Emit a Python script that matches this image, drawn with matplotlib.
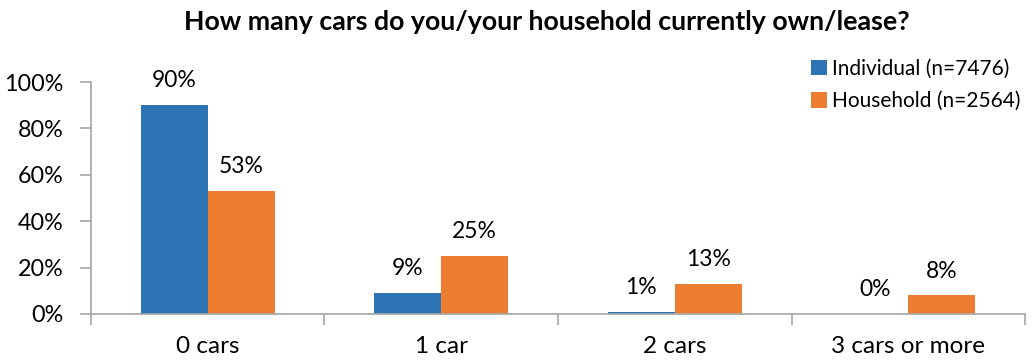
import matplotlib.pyplot as plt
import numpy as np
from matplotlib.ticker import FixedLocator, PercentFormatter

categories = ["0 cars", "1 car", "2 cars", "3 cars or more"]
individual = [90, 9, 1, 0]
household = [53, 25, 13, 8]
series_names = ["Individual (n=7476)", "Household (n=2564)"]
title = "How many cars do you/your household currently own/lease?"

blue = "#2E75B6"
orange = "#ED7D31"
axis_grey = "#A6A6A6"

plt.rcParams['font.family'] = ['Lato', 'DejaVu Sans']

fig = plt.figure(figsize=(10.34, 3.6), dpi=100)
ax = fig.add_axes([0.088, 0.1278, 0.9033, 0.6444])

x = np.arange(len(categories))
w = 0.287
b1 = ax.bar(x - w / 2, individual, w, color=blue, label=series_names[0])
b2 = ax.bar(x + w / 2, household, w, color=orange, label=series_names[1])

for bars, vals in ((b1, individual), (b2, household)):
    for rect, v in zip(bars, vals):
        ax.annotate(f"{v}%", (rect.get_x() + rect.get_width() / 2, v),
                    xytext=(0, 10), textcoords="offset points",
                    ha="center", va="bottom", fontsize=16.5, color="#000000")

ax.set_xlim(-0.5, len(categories) - 0.5)
ax.set_ylim(0, 100)
ax.yaxis.set_major_locator(FixedLocator([0, 20, 40, 60, 80, 100]))
ax.yaxis.set_major_formatter(PercentFormatter(decimals=0))

ax.set_xticks(x)
ax.set_xticklabels(categories)
ax.xaxis.set_minor_locator(FixedLocator(np.arange(-0.5, len(categories), 1.0)))
ax.tick_params(axis="x", which="major", length=0, pad=16, labelsize=17.5)
ax.tick_params(axis="x", which="minor", length=8, width=1.2, color=axis_grey, direction="out")
ax.tick_params(axis="y", length=8, width=1.2, color=axis_grey, pad=12, labelsize=16.8)

for s in ("top", "right"):
    ax.spines[s].set_visible(False)
for s in ("left", "bottom"):
    ax.spines[s].set_color(axis_grey)
    ax.spines[s].set_linewidth(1.2)

fig.text(0.529, 0.938, title, ha="center", va="center", fontsize=19.3, fontweight="bold")

leg = fig.legend(loc="upper right", bbox_to_anchor=(0.995, 0.86), frameon=False,
                 fontsize=15, handlelength=0.75, handleheight=0.75,
                 handletextpad=0.25, labelspacing=0.6, borderaxespad=0.0)

fig.savefig("out.png", dpi=100)
